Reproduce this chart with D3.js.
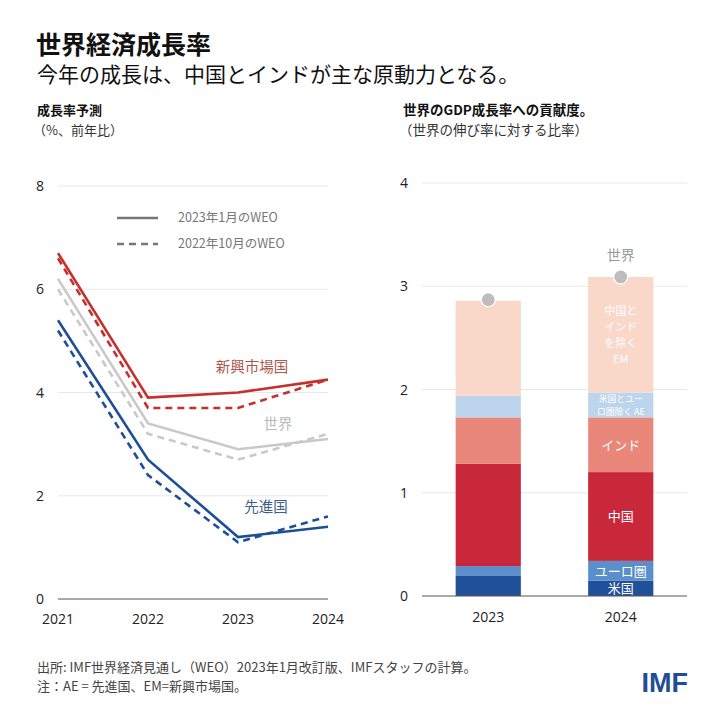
<!DOCTYPE html>
<html><head><meta charset="utf-8">
<script src="https://cdn.jsdelivr.net/npm/d3@7"></script>
<style>
body{margin:0;background:#fff;}
svg{display:block;font-family:"Noto Sans CJK JP","Noto Sans",sans-serif;}
</style></head>
<body><svg id="c" width="720" height="720"></svg>
<script>
// ---- data ----
const years = ["2021","2022","2023","2024"];
const emJan23 = [6.7, 3.9, 4.0, 4.25];
const emOct22 = [6.6, 3.7, 3.7, 4.25];
const worldJan23 = [6.2, 3.4, 2.9, 3.1];
const worldOct22 = [6.0, 3.2, 2.7, 3.2];
const aeJan23 = [5.4, 2.7, 1.2, 1.4];
const aeOct22 = [5.2, 2.4, 1.1, 1.6];
const leftTicks = [0, 2, 4, 6, 8];

const barYears = ["2023","2024"];
const segNames = ["米国","ユーロ圏","中国","インド","米国とユーロ圏除くAE","中国とインドを除くEM"];
const segLabelLines = [["米国"],["ユーロ圏"],["中国"],["インド"],["米国とユー","ロ圏除く AE"],["中国と","インド","を除く","EM"]];
const us = [0.20, 0.15];
const euro = [0.09, 0.19];
const china = [0.99, 0.86];
const india = [0.45, 0.53];
const aeOther = [0.21, 0.24];
const emOther = [0.92, 1.12];
const worldGrowth = [2.87, 3.09];
const rightTicks = [0, 1, 2, 3, 4];

const svg = d3.select("#c");

// ---- titles ----
svg.append("text").attr("x",36).attr("y",54).attr("font-size",25).attr("font-weight","bold").attr("fill","#111").text("世界経済成長率");
svg.append("text").attr("x",37).attr("y",82).attr("font-size",21).attr("fill","#111").text("今年の成長は、中国とインドが主な原動力となる。");
svg.append("text").attr("x",37).attr("y",115).attr("font-size",13).attr("font-weight","bold").attr("fill","#111").text("成長率予測");
svg.append("text").attr("x",33).attr("y",135).attr("font-size",13).attr("fill","#333").text("（%、前年比）");
svg.append("text").attr("x",403).attr("y",115).attr("font-size",13.5).attr("font-weight","bold").attr("fill","#111").text("世界のGDP成長率への貢献度。");
svg.append("text").attr("x",399).attr("y",135).attr("font-size",13.5).attr("fill","#333").text("（世界の伸び率に対する比率）");

// ---- left chart ----
const xL = d3.scalePoint().domain(years).range([58,328]);
const yL = d3.scaleLinear().domain([0,8]).range([599,186]);
const gL = svg.append("g");
gL.selectAll("line.grid").data(leftTicks.filter(d=>d>0)).join("line")
  .attr("x1",58).attr("x2",328).attr("y1",d=>yL(d)).attr("y2",d=>yL(d))
  .attr("stroke","#e8e8e8").attr("stroke-width",1);
gL.append("line").attr("x1",58).attr("x2",328).attr("y1",yL(0)).attr("y2",yL(0)).attr("stroke","#555").attr("stroke-width",1.2);
gL.selectAll("text.yt").data(leftTicks).join("text")
  .attr("x",40).attr("y",d=>yL(d)+5).attr("text-anchor","middle").attr("font-size",14).attr("fill","#222")
  .attr("font-family","'Open Sans',sans-serif").text(d=>d);
gL.selectAll("text.xt").data(years).join("text")
  .attr("x",d=>xL(d)).attr("y",624).attr("text-anchor","middle").attr("font-size",14).attr("fill","#222")
  .attr("font-family","'Open Sans',sans-serif").text(d=>d);

const line = d3.line().x((d,i)=>xL(years[i])).y(d=>yL(d));
const series = [
  {v:worldOct22,c:"#c9c9c9",dash:"7,5"},
  {v:worldJan23,c:"#c9c9c9",dash:null},
  {v:aeOct22,c:"#1e4f96",dash:"7,5"},
  {v:aeJan23,c:"#1e4f96",dash:null},
  {v:emOct22,c:"#c5302c",dash:"7,5"},
  {v:emJan23,c:"#c5302c",dash:null}
];
series.forEach(s=>{
  gL.append("path").attr("d",line(s.v)).attr("fill","none").attr("stroke",s.c)
    .attr("stroke-width",2.6).attr("stroke-dasharray",s.dash);
});
gL.append("text").attr("x",252).attr("y",372).attr("text-anchor","middle").attr("font-size",14.5).attr("fill","#b0574d").text("新興市場国");
gL.append("text").attr("x",278).attr("y",429).attr("text-anchor","middle").attr("font-size",14.5).attr("fill","#bbbbbb").text("世界");
gL.append("text").attr("x",266).attr("y",512).attr("text-anchor","middle").attr("font-size",14.5).attr("fill","#3d5f88").text("先進国");

// legend
gL.append("line").attr("x1",117).attr("x2",158).attr("y1",218).attr("y2",218).attr("stroke","#777").attr("stroke-width",2.6);
gL.append("line").attr("x1",117).attr("x2",158).attr("y1",244).attr("y2",244).attr("stroke","#777").attr("stroke-width",2.6).attr("stroke-dasharray","7,5");
gL.append("text").attr("x",178).attr("y",222).attr("font-size",12.5).attr("fill","#777").text("2023年1月のWEO");
gL.append("text").attr("x",178).attr("y",248).attr("font-size",12.5).attr("fill","#777").text("2022年10月のWEO");

// ---- right chart ----
const xR = d3.scaleBand().domain(barYears).range([422,687]).paddingInner(0.508).paddingOuter(0.254);
const yR = d3.scaleLinear().domain([0,4]).range([596,183]);
const gR = svg.append("g");
gR.selectAll("line.grid").data(rightTicks.filter(d=>d>0)).join("line")
  .attr("x1",422).attr("x2",687).attr("y1",d=>yR(d)).attr("y2",d=>yR(d))
  .attr("stroke","#e8e8e8").attr("stroke-width",1);
gR.selectAll("text.yt").data(rightTicks).join("text")
  .attr("x",404).attr("y",d=>yR(d)+5).attr("text-anchor","middle").attr("font-size",14).attr("fill","#222")
  .attr("font-family","'Open Sans',sans-serif").text(d=>d);
gR.selectAll("text.xt").data(barYears).join("text")
  .attr("x",d=>xR(d)+xR.bandwidth()/2).attr("y",622).attr("text-anchor","middle").attr("font-size",14).attr("fill","#222")
  .attr("font-family","'Open Sans',sans-serif").text(d=>d);

const segVals = [us, euro, china, india, aeOther, emOther];
const segColors = ["#21509a","#5b8fcb","#c8283a","#e8877a","#bdd5ec","#f9d7c9"];
const table = barYears.map((y,i)=>{
  const o = {year:y};
  segNames.forEach((n,k)=>o[n]=segVals[k][i]);
  return o;
});
const stack = d3.stack().keys(segNames)(table);
stack.forEach((layer,k)=>{
  gR.selectAll(null).data(layer).join("rect")
    .attr("x",d=>xR(d.data.year)).attr("width",xR.bandwidth())
    .attr("y",d=>yR(d[1])).attr("height",d=>yR(d[0])-yR(d[1]))
    .attr("fill",segColors[k]);
});
gR.append("line").attr("x1",422).attr("x2",687).attr("y1",yR(0)).attr("y2",yR(0)).attr("stroke","#555").attr("stroke-width",1.2);

// labels in 2024 bar
stack.forEach((layer,k)=>{
  const d = layer[1];
  const cx = xR(d.data.year)+xR.bandwidth()/2;
  const mid = (yR(d[0])+yR(d[1]))/2;
  const lines = segLabelLines[k];
  const lh = lines.length>2 ? 16 : 13;
  const fs = lines.length>2 ? 11 : (lines.length>1 ? 8.8 : 13);
  const t = gR.append("text").attr("text-anchor","middle").attr("font-size",fs).attr("fill","#fff");
  lines.forEach((s,j)=>{
    t.append("tspan").attr("x",cx).attr("y",mid + (j-(lines.length-1)/2)*lh + fs*0.38).text(s);
  });
});

// world dots
gR.selectAll("circle.w").data(barYears).join("circle")
  .attr("cx",d=>xR(d)+xR.bandwidth()/2).attr("cy",(d,i)=>yR(worldGrowth[i]))
  .attr("r",7).attr("fill","#bdbdbd").attr("stroke","#fff").attr("stroke-width",1.2);
gR.append("text").attr("x",xR("2024")+xR.bandwidth()/2).attr("y",260).attr("text-anchor","middle")
  .attr("font-size",14).attr("fill","#9a9a9a").text("世界");

// ---- footer ----
svg.append("text").attr("x",37).attr("y",672).attr("font-size",13).attr("fill","#444").text("出所: IMF世界経済見通し（WEO）2023年1月改訂版、IMFスタッフの計算。");
svg.append("text").attr("x",37).attr("y",691).attr("font-size",13).attr("fill","#444").text("注：AE = 先進国、EM=新興市場国。");
svg.append("text").attr("x",688).attr("y",692).attr("text-anchor","end").attr("font-size",27).attr("font-weight","bold")
  .attr("font-family","'Liberation Sans',Arial,sans-serif").attr("fill","#1f4e96").text("IMF");
</script>
</body></html>
